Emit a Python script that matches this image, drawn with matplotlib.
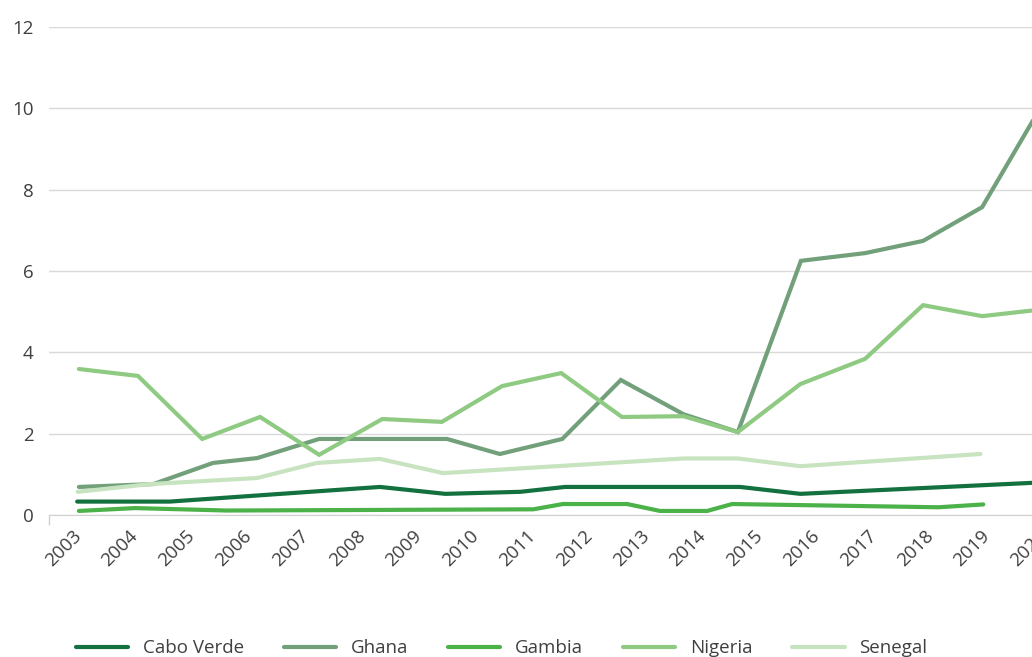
import matplotlib.pyplot as plt
from matplotlib.transforms import ScaledTranslation

plt.rcParams['font.family'] = ['Open Sans', 'DejaVu Sans']

# values (x in decimal years, as plotted)
years = list(range(2003, 2021))

cabo_x = [2002.95, 2004.58, 2008.28, 2009.43, 2010.75, 2011.54, 2014.62, 2015.68, 2019.90]
cabo_y = [0.33, 0.33, 0.69, 0.52, 0.57, 0.69, 0.69, 0.52, 0.80]

ghana_x = [2002.98, 2004.29, 2005.34, 2006.12, 2007.21, 2008.28, 2009.46, 2010.39, 2011.49,
           2012.52, 2013.62, 2014.58, 2015.69, 2016.82, 2017.84, 2018.88, 2019.90]
ghana_y = [0.69, 0.76, 1.28, 1.40, 1.87, 1.87, 1.87, 1.50, 1.87,
           3.32, 2.48, 2.04, 6.25, 6.44, 6.74, 7.57, 10.0]

gambia_x = [2002.98, 2003.97, 2005.59, 2010.98, 2011.50, 2012.63, 2013.21, 2014.04, 2014.48,
            2018.11, 2018.90]
gambia_y = [0.10, 0.17, 0.11, 0.14, 0.27, 0.27, 0.10, 0.10, 0.27, 0.19, 0.26]

nigeria_x = [2002.98, 2004.02, 2005.15, 2006.17, 2007.21, 2008.32, 2009.37, 2010.43, 2011.47,
             2012.54, 2013.62, 2014.58, 2015.68, 2016.82, 2017.84, 2018.88, 2019.90]
nigeria_y = [3.59, 3.42, 1.87, 2.41, 1.48, 2.36, 2.29, 3.17, 3.49,
             2.41, 2.43, 2.04, 3.22, 3.84, 5.16, 4.89, 5.05]

senegal_x = [2002.96, 2004.23, 2006.12, 2007.17, 2008.28, 2009.39, 2013.62, 2014.58, 2015.68, 2018.85]
senegal_y = [0.57, 0.76, 0.91, 1.28, 1.38, 1.03, 1.39, 1.39, 1.20, 1.50]

series = [
    ("Cabo Verde", cabo_x, cabo_y, "#13703f"),
    ("Ghana", ghana_x, ghana_y, "#72a07a"),
    ("Gambia", gambia_x, gambia_y, "#4bb24a"),
    ("Nigeria", nigeria_x, nigeria_y, "#8fca82"),
    ("Senegal", senegal_x, senegal_y, "#c8e3c0"),
]

fig = plt.figure(figsize=(10.32, 6.57), dpi=100)
# right edge runs off the figure, like the original
ax = fig.add_axes([49 / 1032, 142 / 657, 1028 / 1032, 488 / 657])

for name, xs, ys, col in series:
    ax.plot(xs, ys, color=col, lw=3, label=name, solid_capstyle='round', solid_joinstyle='miter')

x_left = 2003 - 31 / 56.8
ax.set_ylim(0, 12)
ax.set_xlim(x_left, 2020.55)
ax.set_yticks(range(0, 13, 2))
ax.set_xticks(years)
ax.set_xticks([x_left], minor=True)
ax.set_xticklabels([str(y) for y in years], rotation=45, ha='right', va='top',
                   rotation_mode='anchor', fontsize=14)
ax.tick_params(axis='both', which='major', length=0, labelsize=13.5, colors='#404040')
ax.tick_params(axis='x', which='minor', length=7, width=1, color='#d0d0d0')
ax.tick_params(axis='y', pad=11)
ax.tick_params(axis='x', pad=9)
shift = ScaledTranslation(-8 / 100, 1 / 100, fig.dpi_scale_trans)
for lbl in ax.get_xticklabels():
    lbl.set_transform(lbl.get_transform() + shift)
ax.grid(axis='y', color='#d9d9d9', lw=1)
ax.set_axisbelow(True)
for s in ['top', 'right', 'left']:
    ax.spines[s].set_visible(False)
ax.spines['bottom'].set_color('#d0d0d0')

fig.legend(loc='center', bbox_to_anchor=(0.486, 0.013), ncol=5, frameon=False,
           fontsize=13.5, handlelength=2.8, handletextpad=0.8, columnspacing=2.1,
           labelcolor='#404040')

fig.savefig('out.png', dpi=100)
